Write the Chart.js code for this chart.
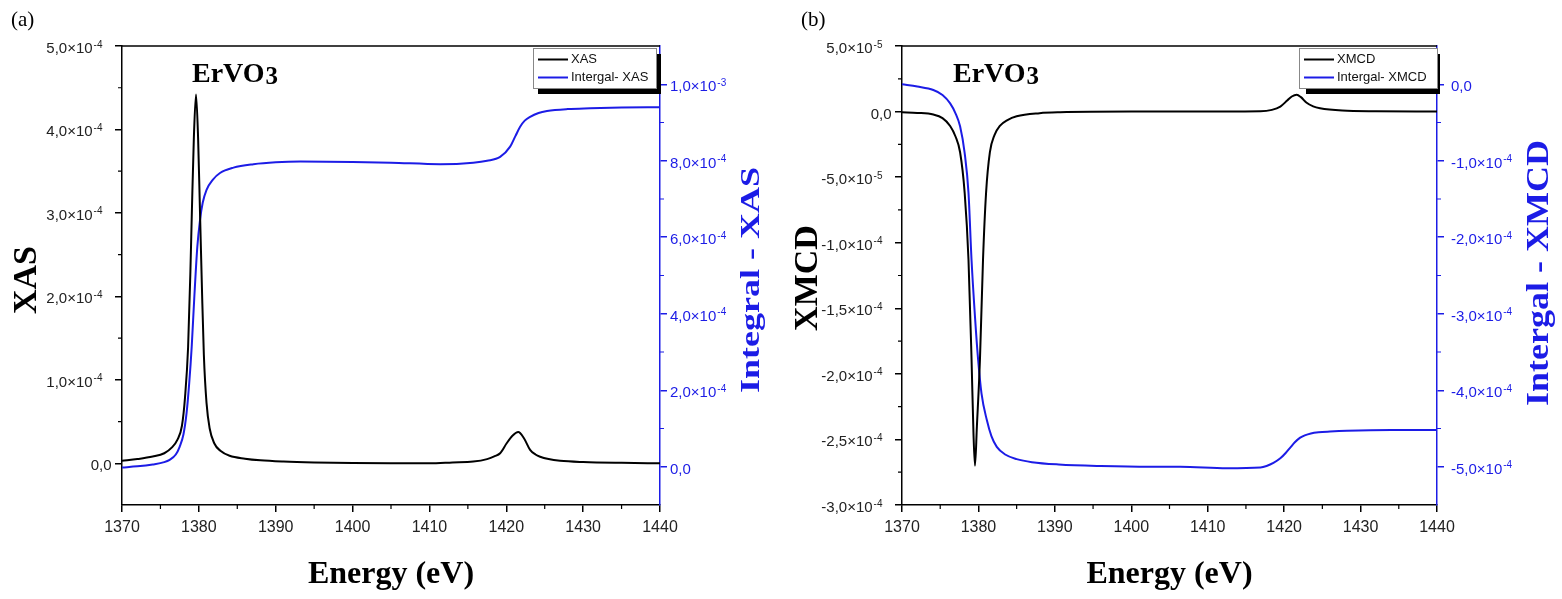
<!DOCTYPE html>
<html>
<head>
<meta charset="utf-8">
<script src="https://cdn.jsdelivr.net/npm/chart.js@4.4.1/dist/chart.umd.min.js"></script>
<style>
html, body { margin: 0; padding: 0; background: #fff; }
.panel { position: absolute; top: 0; width: 781px; height: 599px; }
</style>
</head>
<body>
<div class="panel" style="left:0"><canvas id="xas-chart" width="781" height="599"></canvas></div>
<div class="panel" style="left:781px"><canvas id="xmcd-chart" width="781" height="599"></canvas></div>
<script>
// energy axis (eV)
const energyTicks = [1370, 1380, 1390, 1400, 1410, 1420, 1430, 1440];
const energyMinorTicks = [1375, 1385, 1395, 1405, 1415, 1425, 1435];

// (a) XAS, values in units of 1e-4
const xasEnergy = [1370, 1372, 1374, 1375.5, 1376.5, 1377.2, 1377.8, 1378.2, 1378.6, 1378.9, 1379.1, 1379.35, 1379.63, 1379.9, 1380.15, 1380.4, 1380.65, 1381, 1381.4, 1382, 1382.8, 1384, 1386, 1388, 1391, 1395, 1400, 1405, 1410, 1413, 1415.7, 1417.5, 1418.5, 1419.2, 1420.05, 1420.8, 1421.56, 1422.3, 1423.1, 1423.8, 1424.4, 1425.5, 1427, 1430, 1435, 1440];
const xasValues = [0.03, 0.05, 0.08, 0.12, 0.19, 0.28, 0.45, 0.79, 1.39, 2.3, 3.05, 3.9, 4.42, 3.9, 3.0, 2.1, 1.3, 0.72, 0.42, 0.24, 0.15, 0.09, 0.055, 0.035, 0.02, 0.009, 0.002, 0, 0, 0.01, 0.02, 0.05, 0.085, 0.12, 0.24, 0.33, 0.375, 0.3, 0.16, 0.105, 0.078, 0.05, 0.03, 0.015, 0.005, 0];

// (a) integral of XAS, units of 1e-4
const xasIntEnergy = [1370, 1372, 1374, 1375.5, 1376.2, 1377, 1377.5, 1378, 1378.4, 1378.75, 1379.07, 1379.4, 1379.8, 1380.15, 1380.5, 1381, 1381.8, 1382.75, 1384.5, 1387.1, 1390, 1393.2, 1400, 1405, 1411.4, 1415.7, 1417.5, 1419.2, 1420.5, 1421.2, 1421.8, 1422.4, 1423.1, 1424.2, 1425.3, 1428, 1430.9, 1435, 1440];
const xasIntValues = [-0.02, 0.01, 0.06, 0.12, 0.18, 0.32, 0.52, 0.85, 1.4, 2.2, 3.14, 4.4, 5.75, 6.45, 6.9, 7.24, 7.5, 7.68, 7.82, 7.91, 7.96, 7.98, 7.97, 7.95, 7.91, 7.95, 8.0, 8.1, 8.37, 8.65, 8.89, 9.05, 9.15, 9.25, 9.3, 9.35, 9.37, 9.39, 9.4];

const xasTicks = [0, 1, 2, 3, 4, 5];
const xasTickLabels = ['0,0', '1,0×10^-4', '2,0×10^-4', '3,0×10^-4', '4,0×10^-4', '5,0×10^-4'];
const xasMinorTicks = [0.5, 1.5, 2.5, 3.5, 4.5];
const xasIntTicks = [0, 2, 4, 6, 8, 10];
const xasIntTickLabels = ['0,0', '2,0×10^-4', '4,0×10^-4', '6,0×10^-4', '8,0×10^-4', '1,0×10^-3'];
const xasIntMinorTicks = [1, 3, 5, 7, 9];

// (b) XMCD, units of 1e-4
const xmcdEnergy = [1370, 1372, 1374.1, 1375.3, 1376.3, 1377, 1377.6, 1378.2, 1378.7, 1379.1, 1379.35, 1379.55, 1379.8, 1380.2, 1380.6, 1381, 1381.5, 1382.1, 1382.8, 1383.8, 1385, 1388, 1390.7, 1400, 1410, 1416.9, 1418.4, 1419.5, 1420.4, 1421, 1421.64, 1422.2, 1422.9, 1423.8, 1424.7, 1427.6, 1432, 1440];
const xmcdValues = [-0.005, -0.01, -0.023, -0.05, -0.11, -0.19, -0.31, -0.62, -1.13, -1.89, -2.45, -2.7, -2.4, -1.89, -1.13, -0.62, -0.31, -0.18, -0.11, -0.065, -0.036, -0.012, -0.005, 0, 0, 0.002, 0.013, 0.038, 0.084, 0.115, 0.129, 0.11, 0.069, 0.04, 0.026, 0.008, 0.002, 0];

// (b) integral of XMCD, units of 1e-4
const xmcdIntEnergy = [1370, 1372, 1374.1, 1375.3, 1376.3, 1377, 1377.6, 1378.2, 1378.7, 1379.1, 1379.55, 1379.96, 1380.4, 1381.1, 1381.7, 1382.4, 1383.5, 1385, 1387, 1390.5, 1396, 1402.4, 1406.4, 1412.5, 1416.9, 1417.7, 1418.6, 1419.5, 1420.2, 1420.8, 1421.4, 1422.1, 1422.7, 1423.5, 1424.5, 1426, 1428.2, 1434, 1440];
const xmcdIntValues = [0, -0.03, -0.075, -0.14, -0.25, -0.38, -0.55, -0.9, -1.42, -2.3, -3.04, -3.6, -4.04, -4.39, -4.6, -4.74, -4.84, -4.9, -4.94, -4.97, -4.99, -5.0, -5.0, -5.02, -5.01, -4.99, -4.95, -4.89, -4.82, -4.75, -4.68, -4.62, -4.59, -4.565, -4.55, -4.54, -4.53, -4.52, -4.52];

const xmcdTicks = [0.5, 0, -0.5, -1, -1.5, -2, -2.5, -3];
const xmcdTickLabels = ['5,0×10^-5', '0,0', '-5,0×10^-5', '-1,0×10^-4', '-1,5×10^-4', '-2,0×10^-4', '-2,5×10^-4', '-3,0×10^-4'];
const xmcdMinorTicks = [0.25, -0.25, -0.75, -1.25, -1.75, -2.25, -2.75];
const xmcdIntTicks = [0, -1, -2, -3, -4, -5];
const xmcdIntTickLabels = ['0,0', '-1,0×10^-4', '-2,0×10^-4', '-3,0×10^-4', '-4,0×10^-4', '-5,0×10^-4'];
const xmcdIntMinorTicks = [-0.5, -1.5, -2.5, -3.5, -4.5];

const BLUE = '#1c1ce6';
const SANS = "Arial, 'Liberation Sans', sans-serif";
const SERIF = "'Times New Roman', 'Liberation Serif', serif";

function points(xs, ys) {
    return xs.map((x, i) => ({x: x, y: ys[i]}));
}

function sciLabel(ctx, text, x, y, align, color) {
    const parts = text.split('^');
    ctx.fillStyle = color;
    ctx.textBaseline = 'alphabetic';
    ctx.textAlign = 'left';
    ctx.font = '15px ' + SANS;
    const mw = ctx.measureText(parts[0]).width;
    ctx.font = '10px ' + SANS;
    const ew = parts[1] ? ctx.measureText(parts[1]).width + 1 : 0;
    let x0 = x;
    if (align === 'right') x0 = x - mw - ew - (parts[1] ? 9 : 0);
    ctx.font = '15px ' + SANS;
    ctx.fillText(parts[0], x0, y + 7);
    if (parts[1]) {
        ctx.font = '10px ' + SANS;
        ctx.fillText(parts[1], x0 + mw + 1, y + 1.5);
    }
}

function vTitle(ctx, text, cx, cy, font, color, squeeze) {
    ctx.save();
    ctx.translate(cx, cy);
    ctx.rotate(-Math.PI / 2);
    ctx.scale(1, squeeze);
    ctx.font = font;
    ctx.fillStyle = color;
    ctx.textAlign = 'center';
    ctx.textBaseline = 'middle';
    ctx.fillText(text, 0, 0);
    ctx.restore();
}

function decorPlugin(p) {
    return {
        id: 'decor',
        afterDraw(chart) {
            const ctx = chart.ctx;
            const area = chart.chartArea;
            const sx = chart.scales.x, sy = chart.scales.y, sy2 = chart.scales.y2;
            ctx.save();

            // top frame line
            ctx.strokeStyle = '#000';
            ctx.lineWidth = 1.5;
            ctx.beginPath();
            ctx.moveTo(area.left, area.top);
            ctx.lineTo(area.right, area.top);
            ctx.stroke();

            // minor ticks
            ctx.lineWidth = 1.2;
            ctx.beginPath();
            energyMinorTicks.forEach(v => {
                const px = sx.getPixelForValue(v);
                ctx.moveTo(px, area.bottom);
                ctx.lineTo(px, area.bottom + 4);
            });
            p.minor.forEach(v => {
                const py = sy.getPixelForValue(v);
                ctx.moveTo(area.left, py);
                ctx.lineTo(area.left - 4, py);
            });
            ctx.stroke();
            ctx.strokeStyle = BLUE;
            ctx.beginPath();
            p.intMinor.forEach(v => {
                const py = sy2.getPixelForValue(v);
                ctx.moveTo(area.right, py);
                ctx.lineTo(area.right + 4, py);
            });
            ctx.stroke();

            // y tick labels
            p.ticks.forEach((v, i) => sciLabel(ctx, p.tickLabels[i], area.left - 10.5, sy.getPixelForValue(v), 'right', '#222'));
            p.intTicks.forEach((v, i) => sciLabel(ctx, p.intTickLabels[i], area.right + p.rightGap, sy2.getPixelForValue(v), 'left', BLUE));

            // axis titles
            vTitle(ctx, p.yTitle, 27, p.yTitleY, 'bold 34px ' + SERIF, '#000', 1);
            vTitle(ctx, p.y2Title, p.y2TitleX, p.y2TitleY, 'bold 36px ' + SERIF, BLUE, p.y2Squeeze);
            ctx.font = 'bold 32px ' + SERIF;
            ctx.fillStyle = '#000';
            ctx.textAlign = 'center';
            ctx.textBaseline = 'alphabetic';
            ctx.fillText('Energy (eV)', (area.left + area.right) / 2, 583);

            // sample name and panel letter
            ctx.textAlign = 'left';
            ctx.font = 'bold 28px ' + SERIF;
            ctx.fillText('ErVO', p.nameX, 82);
            const nw = ctx.measureText('ErVO').width;
            ctx.font = 'bold 25px ' + SERIF;
            ctx.fillText('3', p.nameX + nw + 1, 84);
            ctx.font = '21px ' + SERIF;
            ctx.fillText(p.letter, p.letterX, 26);

            // legend with drop shadow
            const L = p.legend;
            ctx.fillStyle = '#000';
            ctx.fillRect(L.sx, L.sy, L.sw, L.sh);
            ctx.fillStyle = '#fff';
            ctx.fillRect(L.x, L.y, L.w, L.h);
            ctx.strokeStyle = '#888';
            ctx.lineWidth = 1;
            ctx.strokeRect(L.x + 0.5, L.y + 0.5, L.w, L.h);
            chart.data.datasets.forEach((ds, i) => {
                const ly = L.y + 11.5 + i * 18;
                ctx.strokeStyle = ds.borderColor;
                ctx.lineWidth = 2;
                ctx.beginPath();
                ctx.moveTo(L.x + 5, ly);
                ctx.lineTo(L.x + 35, ly);
                ctx.stroke();
                ctx.fillStyle = '#111';
                ctx.font = '13px ' + SANS;
                ctx.textBaseline = 'middle';
                ctx.fillText(ds.label, L.x + 38, ly);
            });
            ctx.restore();
        }
    };
}

function buildPanel(canvasId, p) {
    const canvas = document.getElementById(canvasId);
    const setTicks = list => scale => { scale.ticks = list.map(v => ({value: v})); };
    return new Chart(canvas, {
        type: 'line',
        data: {
            datasets: [
                {
                    label: p.mainLabel,
                    data: points(p.mainEnergy, p.mainValues),
                    borderColor: '#000',
                    borderWidth: 2,
                    pointRadius: 0,
                    cubicInterpolationMode: 'monotone',
                    yAxisID: 'y'
                },
                {
                    label: p.intLabel,
                    data: points(p.intEnergy, p.intValues),
                    borderColor: BLUE,
                    borderWidth: 2,
                    pointRadius: 0,
                    cubicInterpolationMode: 'monotone',
                    yAxisID: 'y2'
                }
            ]
        },
        options: {
            responsive: false,
            animation: false,
            devicePixelRatio: 1,
            layout: {padding: {top: 46, left: 0, right: 0, bottom: 0}},
            plugins: {legend: {display: false}, tooltip: {enabled: false}},
            scales: {
                x: {
                    type: 'linear',
                    min: 1370,
                    max: 1440,
                    afterBuildTicks: setTicks(energyTicks),
                    afterFit: s => { s.height = 94; },
                    ticks: {
                        callback: v => String(v),
                        font: {size: 16, family: SANS},
                        color: '#222',
                        padding: 6,
                        maxRotation: 0,
                        autoSkip: false
                    },
                    grid: {drawOnChartArea: false, tickLength: 7, color: '#000', lineWidth: 1.5},
                    border: {color: '#000', width: 1.5}
                },
                y: {
                    position: 'left',
                    min: p.yMin,
                    max: p.yMax,
                    afterBuildTicks: setTicks(p.ticks),
                    afterFit: s => { s.width = p.left; },
                    ticks: {display: false},
                    grid: {drawOnChartArea: false, tickLength: 7, color: '#000', lineWidth: 1.5},
                    border: {color: '#000', width: 1.5}
                },
                y2: {
                    position: 'right',
                    min: p.y2Min,
                    max: p.y2Max,
                    afterBuildTicks: setTicks(p.intTicks),
                    afterFit: s => { s.width = 781 - p.right; },
                    ticks: {display: false},
                    grid: {drawOnChartArea: false, tickLength: 7, color: BLUE, lineWidth: 1.5},
                    border: {color: BLUE, width: 1.5}
                }
            }
        },
        plugins: [decorPlugin(p)]
    });
}

buildPanel('xas-chart', {
    mainLabel: 'XAS', intLabel: 'Intergal- XAS',
    mainEnergy: xasEnergy, mainValues: xasValues,
    intEnergy: xasIntEnergy, intValues: xasIntValues,
    yMin: -0.5, yMax: 5, y2Min: -1, y2Max: 11,
    ticks: xasTicks, tickLabels: xasTickLabels, minor: xasMinorTicks,
    intTicks: xasIntTicks, intTickLabels: xasIntTickLabels, intMinor: xasIntMinorTicks,
    left: 122, right: 660, rightGap: 10,
    yTitle: 'XAS', yTitleY: 280,
    y2Title: 'Integral - XAS', y2TitleX: 752, y2TitleY: 280, y2Squeeze: 0.75,
    nameX: 192, letter: '(a)', letterX: 11,
    legend: {x: 533, y: 48, w: 123, h: 40, sx: 538, sy: 54, sw: 123, sh: 40}
});

buildPanel('xmcd-chart', {
    mainLabel: 'XMCD', intLabel: 'Intergal- XMCD',
    mainEnergy: xmcdEnergy, mainValues: xmcdValues,
    intEnergy: xmcdIntEnergy, intValues: xmcdIntValues,
    yMin: -3, yMax: 0.5, y2Min: -5.5, y2Max: 0.5,
    ticks: xmcdTicks, tickLabels: xmcdTickLabels, minor: xmcdMinorTicks,
    intTicks: xmcdIntTicks, intTickLabels: xmcdIntTickLabels, intMinor: xmcdIntMinorTicks,
    left: 121, right: 656, rightGap: 14,
    yTitle: 'XMCD', yTitleY: 278,
    y2Title: 'Intergal - XMCD', y2TitleX: 759, y2TitleY: 273, y2Squeeze: 0.85,
    nameX: 172, letter: '(b)', letterX: 20,
    legend: {x: 518, y: 48, w: 138, h: 40, sx: 525, sy: 54, sw: 134, sh: 40}
});
</script>
</body>
</html>
